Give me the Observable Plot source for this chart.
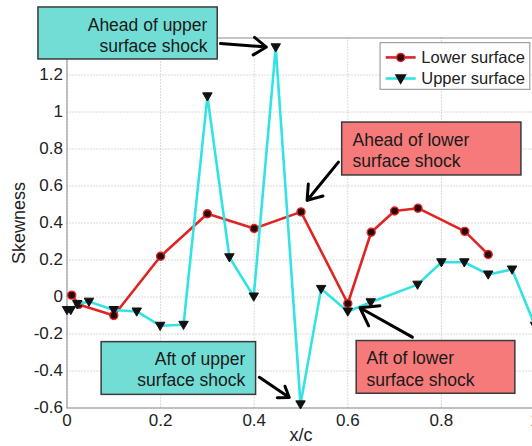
<!DOCTYPE html>
<html><head><meta charset="utf-8">
<script src="https://cdn.jsdelivr.net/npm/d3@7"></script>
<script src="https://cdn.jsdelivr.net/npm/@observablehq/plot@0.6"></script>
<style>
html,body{margin:0;padding:0;background:#fff;overflow:hidden;}
#chart svg{display:block;}
</style></head><body><div id="chart"></div>
<script>
// ---- data ----
const seriesNames = ["Lower surface", "Upper surface"];
const lowerX = [0.01, 0.025, 0.1, 0.2, 0.3, 0.4, 0.5, 0.6, 0.65, 0.7, 0.75, 0.85, 0.9];
const lowerY = [0.01, -0.04, -0.10, 0.22, 0.45, 0.37, 0.46, -0.035, 0.35, 0.465, 0.48, 0.355, 0.23];
const upperX = [0, 0.008, 0.022, 0.047, 0.1, 0.149, 0.199, 0.249, 0.3, 0.347, 0.399, 0.446, 0.499, 0.543, 0.6, 0.649, 0.749, 0.8, 0.849, 0.9, 0.951, 1.0];
const upperY = [-0.07, -0.07, -0.038, -0.025, -0.07, -0.078, -0.155, -0.15, 1.085, 0.215, 0.003, 1.35, -0.58, 0.044, -0.078, -0.028, 0.067, 0.188, 0.188, 0.122, 0.149, -0.155];
const xTicks = [0, 0.2, 0.4, 0.6, 0.8, 1];
const yTicks = [-0.6, -0.4, -0.2, 0, 0.2, 0.4, 0.6, 0.8, 1, 1.2];
const axisLabels = ["x/c", "Skewness"];

// ---- annotations (data units) ----
const noteText = ["Ahead of upper\nsurface shock", "Ahead of lower\nsurface shock", "Aft of upper\nsurface shock", "Aft of lower\nsurface shock"];
const noteSide = ["upper", "lower", "upper", "lower"];
const boxX1 = [-0.061, 0.588, 0.074, 0.619];
const boxX2 = [0.322, 0.971, 0.404, 0.958];
const boxY1 = [1.565, 0.943, -0.244, -0.238];
const boxY2 = [1.284, 0.657, -0.529, -0.523];
const labelX = [0.300, 0.610, 0.381, 0.640];
const labelY = [1.419, 0.797, -0.386, -0.384];
const arrowX1 = [0.328, 0.580, 0.411, 0.738];
const arrowY1 = [1.370, 0.729, -0.434, -0.217];
const arrowX2 = [0.426, 0.513, 0.475, 0.626];
const arrowY2 = [1.351, 0.522, -0.543, -0.058];

// ---- legend layout (data units) ----
const legendBox = {x1: 0.670, x2: 0.990, y1: 1.372, y2: 1.120};
const legendRowY = [1.295, 1.181];
const legendLineX = [0.681, 0.745];
const legendMarkX = 0.713;
const legendTextX = 0.757;

// ---- styles ----
const red = "#e02424";
const cyan = "#33e3e3";
const teal = "#72ddd5";
const pink = "#f67a7a";
const font = "Arial, 'Liberation Sans', sans-serif";

const triDown = {draw(ctx, size) {
  const r = Math.sqrt(size / Math.PI);
  ctx.moveTo(-r * 1.1, -r * 0.8);
  ctx.lineTo(r * 1.1, -r * 0.8);
  ctx.lineTo(0, r * 1.1);
  ctx.closePath();
}};

const lower = lowerX.map((x, i) => ({x, y: lowerY[i]}));
const upper = upperX.map((x, i) => ({x, y: upperY[i]}));
const notes = noteText.map((t, i) => ({
  text: t, side: noteSide[i],
  bx1: boxX1[i], bx2: boxX2[i], by1: boxY1[i], by2: boxY2[i],
  lx: labelX[i], ly: labelY[i],
  ax1: arrowX1[i], ay1: arrowY1[i], ax2: arrowX2[i], ay2: arrowY2[i]
}));
const legendRows = seriesNames.map((n, i) => ({name: n, y: legendRowY[i], i}));
const fmt = d => String(+d.toFixed(1));

const plot = Plot.plot({
  width: 532, height: 446,
  marginLeft: 66.5, marginRight: -2.5, marginTop: 37.5, marginBottom: 38.5,
  style: {fontFamily: font, fontSize: "17px", background: "#fff", color: "#222"},
  x: {domain: [0, 1]},
  y: {domain: [-0.6, 1.4]},
  marks: [
    Plot.gridX(xTicks, {stroke: "#b4b4b4", strokeOpacity: 1, strokeDasharray: "1,2"}),
    Plot.gridY(yTicks, {stroke: "#b4b4b4", strokeOpacity: 1, strokeDasharray: "1,2"}),
    Plot.frame({stroke: "#8c8c8c"}),
    Plot.axisX(xTicks, {tickSize: 0, tickPadding: 6, tickFormat: fmt, label: null, fontSize: 17}),
    Plot.axisY(yTicks, {tickSize: 0, tickPadding: 4, tickFormat: fmt, label: null, fontSize: 17}),
    Plot.text([axisLabels[0]], {text: d => d, frameAnchor: "bottom", dy: 27.5, lineAnchor: "middle", textAnchor: "middle", fontSize: 18}),
    Plot.text([axisLabels[1]], {text: d => d, frameAnchor: "left", dx: -48, rotate: -90, textAnchor: "middle", lineAnchor: "middle", fontSize: 18}),
    // series
    Plot.line(lower, {x: "x", y: "y", stroke: red, strokeWidth: 2.6}),
    Plot.dot(lower, {x: "x", y: "y", r: 4, fill: "#2a0808", stroke: red, strokeWidth: 1.4}),
    Plot.line(upper, {x: "x", y: "y", stroke: cyan, strokeWidth: 2.6}),
    Plot.dot(upper, {x: "x", y: "y", r: 4.3, symbol: triDown, fill: "#111", stroke: "#111", strokeWidth: 1}),
    // legend
    Plot.rect([legendBox], {x1: "x1", x2: "x2", y1: "y1", y2: "y2", fill: "#fff", stroke: "#8c8c8c", strokeWidth: 1}),
    Plot.link(legendRows, {x1: () => legendLineX[0], x2: () => legendLineX[1], y1: "y", y2: "y",
      stroke: d => d.i === 0 ? red : cyan, strokeWidth: 2.6}),
    Plot.dot(legendRows.filter(d => d.i === 0), {x: () => legendMarkX, y: "y", r: 4, fill: "#2a0808", stroke: red, strokeWidth: 1.4}),
    Plot.dot(legendRows.filter(d => d.i === 1), {x: () => legendMarkX, y: "y", r: 4.3, symbol: triDown, fill: "#111", stroke: "#111"}),
    Plot.text(legendRows, {x: () => legendTextX, y: "y", text: "name", textAnchor: "start", fontSize: 16.5, fill: "#222"}),
    // annotations
    Plot.rect(notes, {x1: "bx1", x2: "bx2", y1: "by1", y2: "by2",
      fill: d => d.side === "upper" ? teal : pink, stroke: "#3a3a3a", strokeWidth: 1.5}),
    Plot.text(notes.filter(d => d.side === "upper"), {x: "lx", y: "ly", text: "text", textAnchor: "end", lineHeight: 1.24, fontSize: 17.5, fill: "#1a1a1a"}),
    Plot.text(notes.filter(d => d.side === "lower"), {x: "lx", y: "ly", text: "text", textAnchor: "start", lineHeight: 1.24, fontSize: 17.5, fill: "#1a1a1a"}),
    Plot.arrow(notes, {x1: "ax1", y1: "ay1", x2: "ax2", y2: "ay2", stroke: "#000", strokeWidth: 3, headLength: 13, headAngle: 70})
  ]
});
document.getElementById("chart").appendChild(plot);
</script></body></html>
